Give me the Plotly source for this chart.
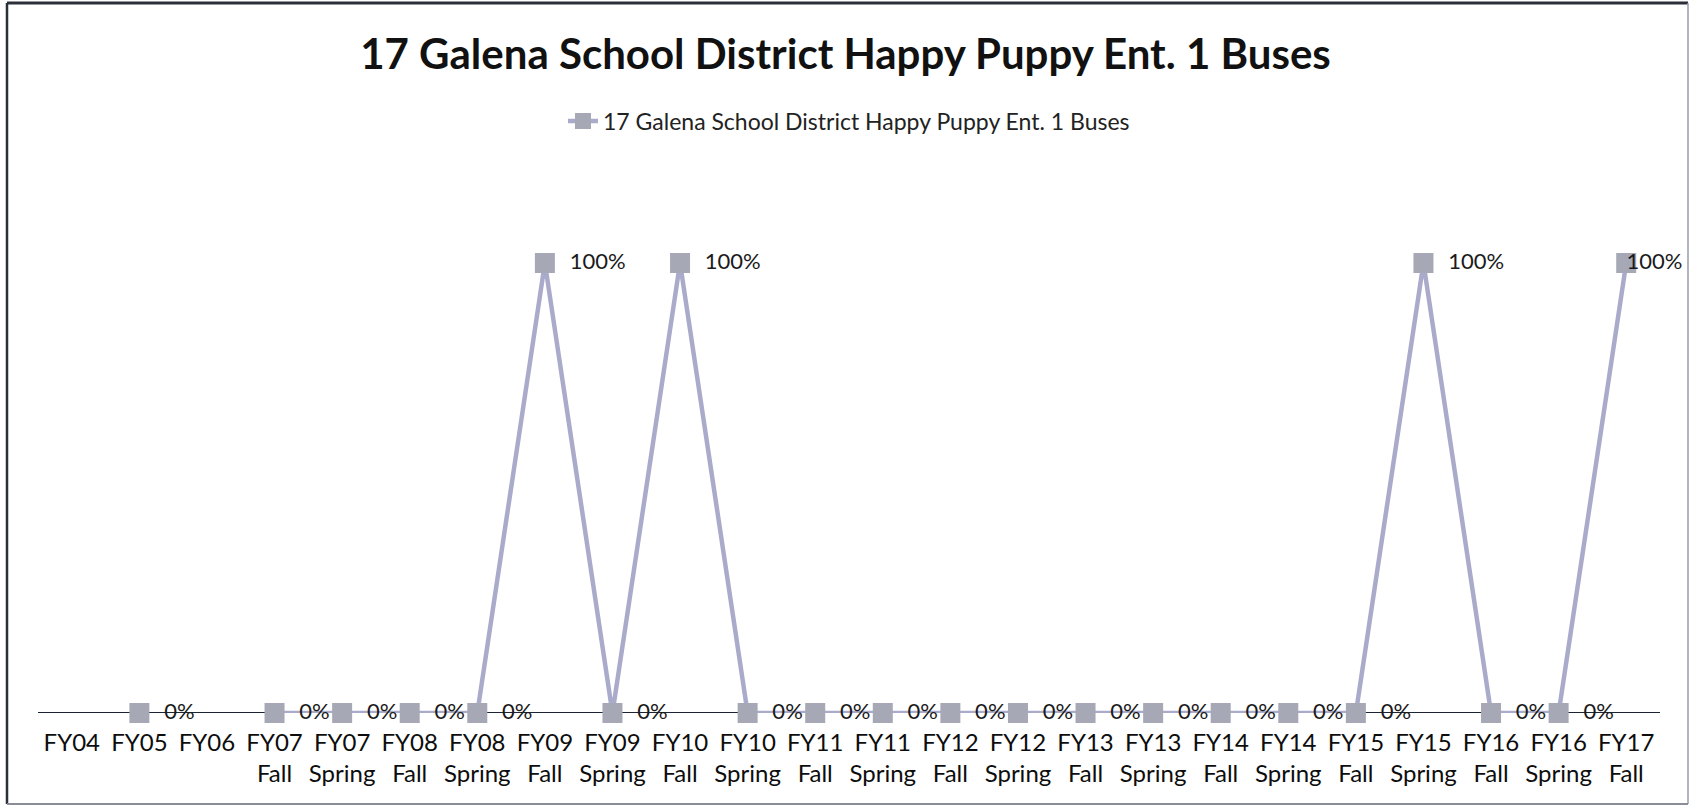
import plotly.graph_objects as go

categories = ["FY04", "FY05", "FY06", "FY07<br>Fall", "FY07<br>Spring", "FY08<br>Fall",
              "FY08<br>Spring", "FY09<br>Fall", "FY09<br>Spring", "FY10<br>Fall",
              "FY10<br>Spring", "FY11<br>Fall", "FY11<br>Spring", "FY12<br>Fall",
              "FY12<br>Spring", "FY13<br>Fall", "FY13<br>Spring", "FY14<br>Fall",
              "FY14<br>Spring", "FY15<br>Fall", "FY15<br>Spring", "FY16<br>Fall",
              "FY16<br>Spring", "FY17<br>Fall"]
values = [None, 0, None, 0, 0, 0, 0, 100, 0, 100, 0, 0, 0, 0, 0, 0, 0, 0, 0, 0, 100, 0, 0, 100]
series_name = "17 Galena School District Happy Puppy Ent. 1 Buses"

NB = "\u00a0"
labels = ["" if v is None else NB * 2 + f"{v}%" for v in values]
positions = ["middle right"] * len(values)
# last label is pulled back over its marker so it stays inside the frame
labels[-1] = NB * 10 + f"{values[-1]}%"
positions[-1] = "middle center"

FONT = "Lato, Open Sans, sans-serif"

fig = go.Figure()
fig.add_trace(go.Scatter(
    x=list(range(len(categories))), y=values, mode="lines+markers+text",
    name=series_name, text=labels, textposition=positions,
    textfont=dict(family=FONT, size=22, color="#1a1a1a"),
    line=dict(color="#aaabcb", width=4.5),
    marker=dict(symbol="square", size=20, color="#a6a8b6"),
    connectgaps=False, cliponaxis=False,
))

W, H = 1691, 807
ml, mr, mt, mb = 38, 31, 173, 94
pw, ph = W - ml - mr, H - mt - mb

def px(x):
    return (x - ml) / pw

def py(y):
    return (H - mb - y) / ph

fig.update_layout(
    width=W, height=H,
    margin=dict(l=ml, r=mr, t=mt, b=mb),
    paper_bgcolor="white", plot_bgcolor="white",
    title=dict(text="<b>17 Galena School District Happy Puppy Ent. 1 Buses</b>",
               x=0.5, xanchor="center", y=1 - 54 / H, yanchor="middle",
               font=dict(family=FONT, size=42, color="#111111")),
    showlegend=True,
    legend=dict(orientation="h", x=0.5, xanchor="center", y=py(121), yanchor="middle",
                font=dict(family=FONT, size=23, color="#222222"), bgcolor="rgba(0,0,0,0)"),
    xaxis=dict(tickmode="array", tickvals=list(range(len(categories))), ticktext=categories,
               range=[-0.5, len(categories) - 0.5], showgrid=False, zeroline=False,
               showline=False, ticks="", ticklabelstandoff=13,
               tickfont=dict(family=FONT, size=24, color="#0d0d0d"),
               layer="below traces"),
    yaxis=dict(range=[0, 120], showgrid=False, zeroline=False, showticklabels=False,
               showline=False, ticks="", layer="below traces"),
    shapes=[
        # outer frame: dark top/left, lighter right/bottom
        dict(type="line", xref="paper", yref="paper", x0=px(7), x1=px(1688), y0=py(3), y1=py(3),
             line=dict(color="#2a2f3a", width=3), layer="below"),
        dict(type="line", xref="paper", yref="paper", x0=px(7), x1=px(7), y0=py(3), y1=py(804),
             line=dict(color="#2a2f3a", width=2.5), layer="below"),
        dict(type="line", xref="paper", yref="paper", x0=px(1688), x1=px(1688), y0=py(3), y1=py(804),
             line=dict(color="#9a9ca8", width=1.5), layer="below"),
        dict(type="line", xref="paper", yref="paper", x0=px(7), x1=px(1688), y0=py(804), y1=py(804),
             line=dict(color="#8a8c98", width=2), layer="below"),
        # category axis line at zero
        dict(type="line", xref="x", yref="y", x0=-0.5, x1=23.5, y0=0, y1=0,
             line=dict(color="#1c2333", width=2), layer="below"),
    ],
)

fig.write_html("out.html", config={"displayModeBar": False},
               post_script="document.body.style.margin='0';")
